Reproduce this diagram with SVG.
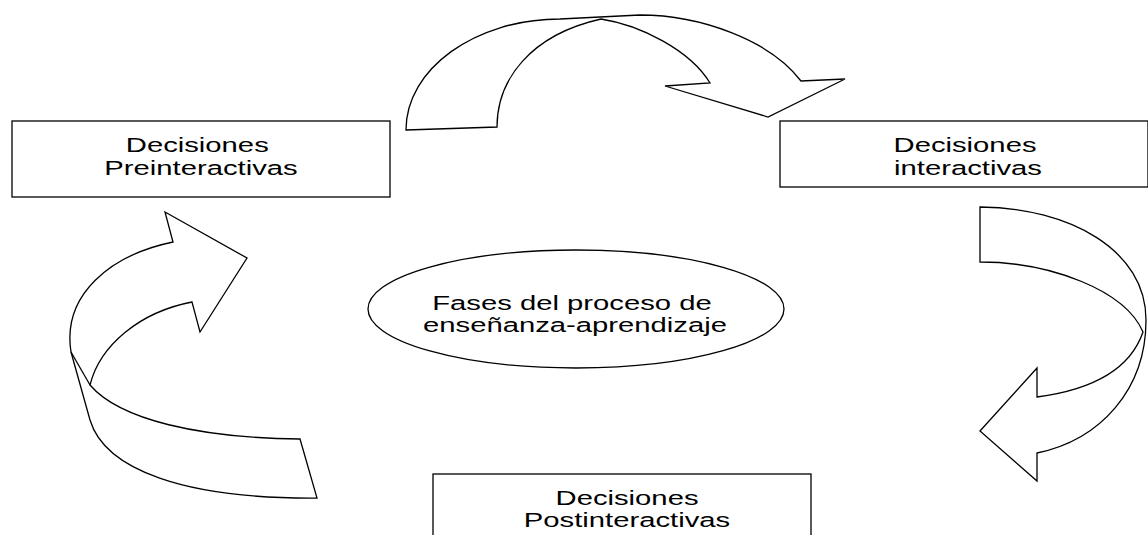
<svg xmlns="http://www.w3.org/2000/svg" width="1148" height="535" viewBox="0 0 1148 535">
<style>
.box{fill:#fff;stroke:#000;stroke-width:1.3}
.arrow{fill:#fff;stroke:#000;stroke-width:1.3;stroke-linejoin:miter}
.line{fill:none;stroke:#000;stroke-width:1.3}
.lbl{font-family:"Liberation Sans",Arial,sans-serif;font-size:19.5px;fill:#000;text-anchor:middle}
</style>
<rect width="1148" height="535" fill="#fff"/>
<g id="connectors">
  <path id="arrow-top" class="arrow" d="M406,130 L497,127 C497,80 530,35 601,19 C640,25 690,50 710,83 L665,86 L768,117 L845,79 L801,81 C770,40 700,15 640,15 L560,19 C475,19 406,69 406,130 Z"/>
  <path id="arrow-right" class="arrow" d="M980,207 C1070,208 1146,250 1146,320 C1146,390 1100,440 1037,453 L1037,481 L980,431 L1037,368 L1037,397 C1090,390 1130,370 1143,332 C1125,290 1050,262 980,262 Z"/>
  <path id="arrow-left" class="arrow" d="M317,498 C185,499 105,470 90,420 L71,352 C62,295 110,255 173,242 L165,212 L247,258 L200,332 L192,302 C140,312 100,345 90,385 C120,420 200,438 300,439 Z"/>
  <path class="line" d="M71,352 L90,385"/>
</g>
<g id="node-pre">
  <rect class="box" x="12" y="121" width="378" height="76"/>
  <g transform="translate(201,0) scale(1.5,1)">
    <text class="lbl" x="-2.5" y="152">Decisiones</text>
    <text class="lbl" x="0" y="175">Preinteractivas</text>
  </g>
</g>
<g id="node-inter">
  <rect class="box" x="780" y="121" width="368" height="66"/>
  <g transform="translate(968,0) scale(1.5,1)">
    <text class="lbl" x="-2" y="152">Decisiones</text>
    <text class="lbl" x="0" y="175">interactivas</text>
  </g>
</g>
<g id="node-center">
  <ellipse class="box" cx="576" cy="309" rx="208" ry="59"/>
  <g transform="translate(575,0) scale(1.5,1)">
    <text class="lbl" x="-2" y="310">Fases del proceso de</text>
    <text class="lbl" x="0" y="332">enseñanza-aprendizaje</text>
  </g>
</g>
<g id="node-post">
  <rect class="box" x="433" y="474" width="378" height="80"/>
  <g transform="translate(627,0) scale(1.5,1)">
    <text class="lbl" x="0" y="505">Decisiones</text>
    <text class="lbl" x="0" y="527">Postinteractivas</text>
  </g>
</g>
</svg>
